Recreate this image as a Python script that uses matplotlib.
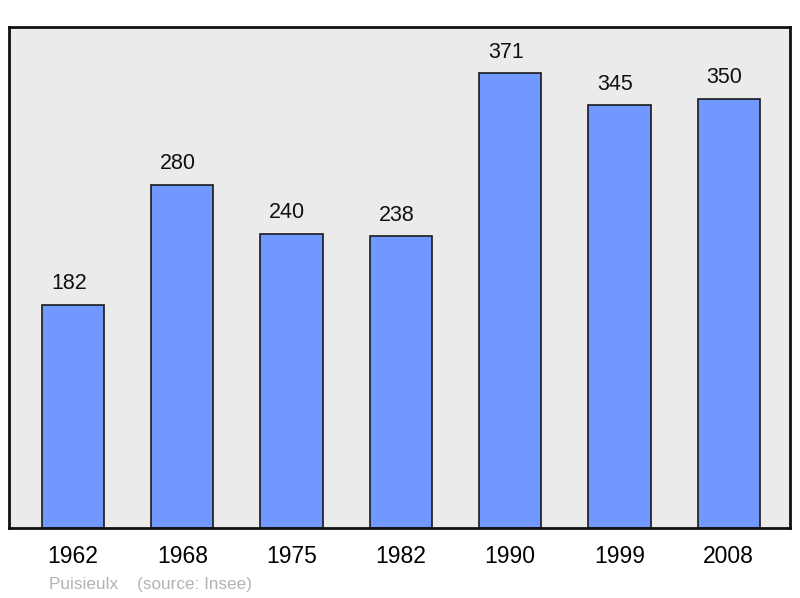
import matplotlib
matplotlib.use('Agg')
import matplotlib.pyplot as plt

plt.rcParams['font.family'] = ['Liberation Sans', 'DejaVu Sans']

years = ['1962', '1968', '1975', '1982', '1990', '1999', '2008']
population = [182, 280, 240, 238, 371, 345, 350]

fig = plt.figure(figsize=(8, 5.98), dpi=100)
ax = fig.add_axes([9/800, 70/598, 781/800, 501/598])
ax.set_facecolor('#ebebeb')

x = list(range(len(years)))
ax.bar(x, population, width=0.57, color='#7098ff', edgecolor='#1a1a1a', linewidth=1.2, zorder=2)
for xi, v in zip(x, population):
    ax.annotate(str(v), (xi, v), xytext=(-3, 7.5), textcoords='offset points',
                ha='center', va='bottom', fontsize=15.5, color='#111111')

ax.set_xlim(-0.585, 6.56)
ax.set_ylim(0, 408.6)
ax.set_yticks([])
ax.set_xticks(x)
ax.set_xticklabels(years, fontsize=16.5)
ax.tick_params(axis='x', length=0, pad=12)
for s in ax.spines.values():
    s.set_linewidth(2)
    s.set_color('#111111')

fig.text(49/800, 1 - 584/598, 'Puisieulx    (source: Insee)', fontsize=12.3,
         color='#b3b3b3', ha='left', va='center')

fig.savefig('out.png', dpi=100)
